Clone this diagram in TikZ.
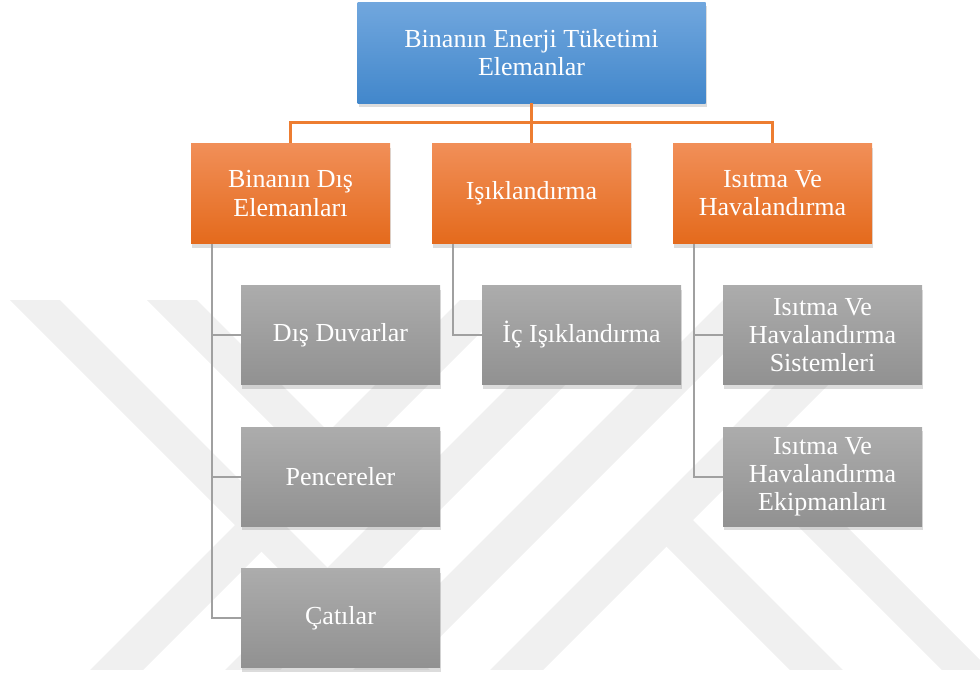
\documentclass[tikz,border=0pt]{standalone}
\usepackage{fontspec}
\setmainfont{Liberation Serif}
\usetikzlibrary{shadows}
\definecolor{bluetop}{RGB}{113,167,222}
\definecolor{bluebot}{RGB}{66,135,203}
\definecolor{orangetop}{RGB}{241,143,88}
\definecolor{orangebot}{RGB}{228,106,28}
\definecolor{graytop}{RGB}{172,172,172}
\definecolor{graybot}{RGB}{145,145,145}
\definecolor{lineorange}{RGB}{237,125,49}
\definecolor{linegray}{RGB}{160,160,160}
\begin{document}
\begin{tikzpicture}[x=0.25mm,y=-0.25mm]
    \newcommand{\colone}{290.5} % centre of the first column
    \newcommand{\colstep}{241}
    \newcommand{\subshift}{50} % sub boxes sit right of their parent
    \newcommand{\rowtop}{52.5}
    \newcommand{\rowmain}{193.5}
    \newcommand{\rowone}{335}
    \newcommand{\rowstep}{141.5}

    % set the styles of the boxes and the lines
    \tikzset{
        box/.style={
            rectangle,
            minimum width=49.75mm,
            minimum height=25mm,
            inner sep=1mm,
            align=center,
            text=white,
            font=\fontsize{18.5}{20}\selectfont,
            drop shadow={opacity=.28, shadow xshift=.3mm, shadow yshift=-1mm}
            },
        topbox/.style={box, minimum width=87mm, minimum height=25.25mm, top color=bluetop, bottom color=bluebot},
        mainbox/.style={box, top color=orangetop, bottom color=orangebot},
        subbox/.style={box, minimum height=24.75mm, top color=graytop, bottom color=graybot},
        mainline/.style={draw=lineorange, line width=.65mm},
        subline/.style={draw=linegray, line width=.5mm},
        stripe/.style={fill=black!6}
    }
    \useasboundingbox (0,0) rectangle (980,675);

    % watermark
    \begin{scope}
        \clip (0,300) rectangle (980,669);
        \fill[stripe] (10,300) -- (60,300) -- (430,670) -- (380,670) -- cycle;
        \fill[stripe] (147,300) -- (197,300) -- (341.75,444.75) -- (316.75,469.75) -- cycle;
        \fill[stripe] (90,670) -- (143,670) -- (513,300) -- (460,300) -- cycle;
        \fill[stripe] (225,670) -- (280,670) -- (650,300) -- (595,300) -- cycle;
        \fill[stripe] (353,670) -- (407,670) -- (777,300) -- (723,300) -- cycle;
        \fill[stripe] (490,670) -- (543,670) -- (913,300) -- (860,300) -- cycle;
        \fill[stripe] (653.25,533.25) -- (679.75,506.75) -- (843,670) -- (790,670) -- cycle;
        \fill[stripe] (729.25,457.25) -- (753.25,433.25) -- (990,670) -- (942,670) -- cycle;
    \end{scope}

    % boxes
    \node[topbox] (top) at (\colone+\colstep,\rowtop) {Binanın Enerji Tüketimi\\Elemanlar};
    \node[mainbox] (dis) at (\colone,\rowmain) {Binanın Dış\\Elemanları};
    \node[mainbox] (isik) at (\colone+\colstep,\rowmain) {Işıklandırma};
    \node[mainbox] (havl) at (\colone+2*\colstep,\rowmain) {Isıtma Ve\\Havalandırma};

    \node[subbox] (duvar) at (\colone+\subshift,\rowone) {Dış Duvarlar};
    \node[subbox] (pencere) at (\colone+\subshift,\rowone+\rowstep) {Pencereler};
    \node[subbox] (cati) at (\colone+\subshift,\rowone+2*\rowstep) {Çatılar};
    \node[subbox] (icisik) at (\colone+\colstep+\subshift,\rowone) {İç Işıklandırma};
    \node[subbox] (sistem) at (\colone+2*\colstep+\subshift,\rowone) {Isıtma Ve\\Havalandırma\\Sistemleri};
    \node[subbox] (ekipman) at (\colone+2*\colstep+\subshift,\rowone+\rowstep) {Isıtma Ve\\Havalandırma\\Ekipmanları};

    % orange lines
    \draw[mainline] (top) -- (isik);
    \draw[mainline] (dis.north) -- ++(0,-21) -| (havl.north);

    % grey lines
    \coordinate (disbus) at ([xshift=5.25mm]dis.south west);
    \coordinate (isikbus) at ([xshift=5.25mm]isik.south west);
    \coordinate (havlbus) at ([xshift=5.25mm]havl.south west);
    \draw[subline] (disbus) |- (duvar.west);
    \draw[subline] (disbus) |- (pencere.west);
    \draw[subline] (disbus) |- (cati.west);
    \draw[subline] (isikbus) |- (icisik.west);
    \draw[subline] (havlbus) |- (sistem.west);
    \draw[subline] (havlbus) |- (ekipman.west);
\end{tikzpicture}
\end{document}
